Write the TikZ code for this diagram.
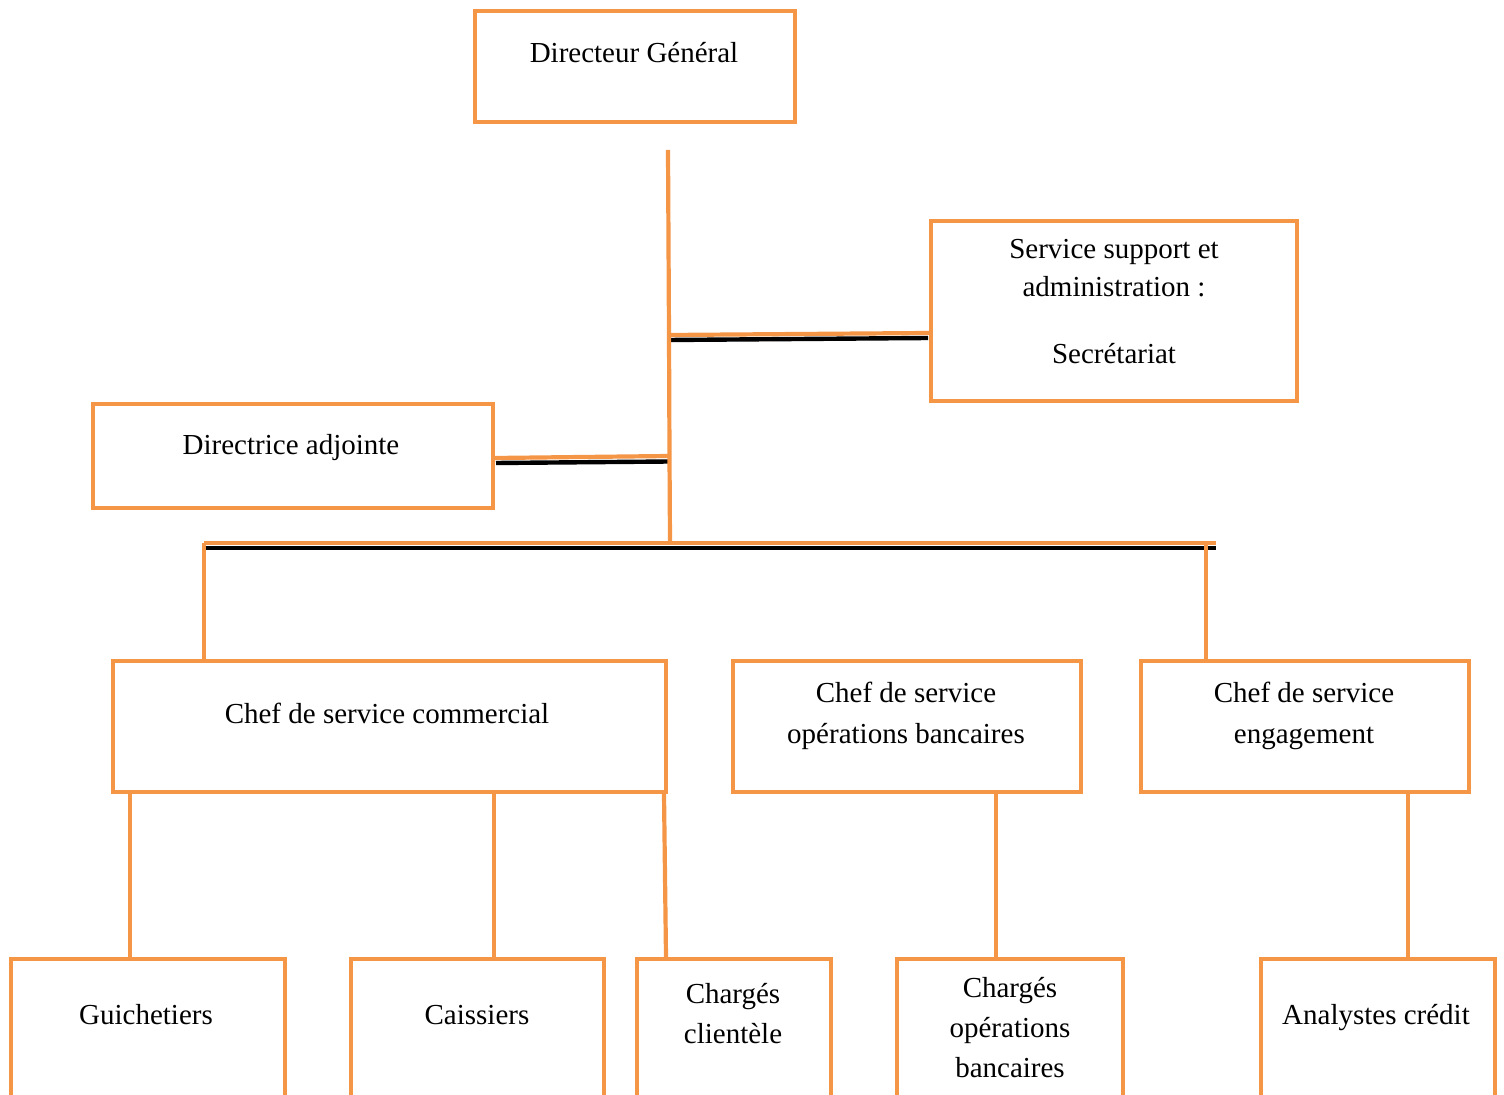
\documentclass[tikz,border=0pt]{standalone}
\usepackage{fontspec}
\setmainfont{Liberation Serif}
\definecolor{boxorange}{RGB}{245,150,70}
\begin{document}
\begin{tikzpicture}[x=0.5pt,y=-0.5pt,
  box/.style={draw=boxorange, line width=2.1pt, rectangle, inner sep=0pt, fill=white},
  txt/.style={anchor=base, inner sep=0pt, font=\fontsize{14.5pt}{20pt}\selectfont},
  link/.style={draw=boxorange, line width=2.1pt},
  shade/.style={draw=black, line width=2.2pt}]
\useasboundingbox (0,0) rectangle (1504,1095);
\begin{scope}
\clip (0,0) rectangle (1504,1095);

% boxes
\node[box, minimum width=160pt, minimum height=55.5pt] (dg) at (635,66.5) {};
\node[box, minimum width=183pt, minimum height=90pt] (sup) at (1114,311) {};
\node[box, minimum width=200pt, minimum height=52pt] (adj) at (293,456) {};
\node[box, minimum width=276.5pt, minimum height=65.5pt] (com) at (389.5,726.5) {};
\node[box, minimum width=174pt, minimum height=65.5pt] (ops) at (907,726.5) {};
\node[box, minimum width=164pt, minimum height=65.5pt] (eng) at (1305,726.5) {};
\node[box, minimum width=137pt, minimum height=80.5pt] (gui) at (148,1039.5) {};
\node[box, minimum width=126.5pt, minimum height=80.5pt] (cai) at (477.5,1039.5) {};
\node[box, minimum width=97pt, minimum height=80.5pt] (cli) at (734,1039.5) {};
\node[box, minimum width=113pt, minimum height=80.5pt] (cop) at (1010,1039.5) {};
\node[box, minimum width=117pt, minimum height=80.5pt] (ana) at (1378,1039.5) {};

% texts
\node[txt] (dgt) at (634,63) {Directeur Général};
\node[txt] (sup1) at (1114,259) {Service support et};
\node[txt] (sup2) at (1114,297) {administration :};
\node[txt] (sup3) at (1114,364) {Secrétariat};
\node[txt] (adjt) at (291,455) {Directrice adjointe};
\node[txt] (comt) at (387,724) {Chef de service commercial};
\node[txt] (ops1) at (906,703) {Chef de service};
\node[txt] (ops2) at (906,743) {opérations bancaires};
\node[txt] (eng1) at (1304,703) {Chef de service};
\node[txt] (eng2) at (1304,743) {engagement};
\node[txt] (guit) at (146,1024) {Guichetiers};
\node[txt] (cait) at (477,1024) {Caissiers};
\node[txt] (cli1) at (733,1003) {Chargés};
\node[txt] (cli2) at (733,1043) {clientèle};
\node[txt] (cop1) at (1010,997) {Chargés};
\node[txt] (cop2) at (1010,1037) {opérations};
\node[txt] (cop3) at (1010,1077) {bancaires};
\node[txt] (anat) at (1376,1024) {Analystes crédit};

% trunk and junction points
\coordinate (top) at (668,150);
\coordinate (jsup) at (669,335);
\coordinate (jadj) at (669.5,456);
\coordinate (jbus) at (670,543);
\coordinate (busl) at (204,543);
\coordinate (busr) at (1216,543);
\coordinate (dropl) at (204,661);
\coordinate (dropr) at (1206,661);
% ends of the black shadow lines
\coordinate (ssupa) at (669,340);
\coordinate (ssupb) at (928,338);
\coordinate (sadja) at (669.5,461.5);
\coordinate (sadjb) at (496,463);
\coordinate (sbusa) at (204,548);
\coordinate (sbusb) at (1216,548);

% black shadow lines under the horizontal links
\draw[shade] (ssupa) -- (ssupb);
\draw[shade] (sadja) -- (sadjb);
\draw[shade] (sbusa) -- (sbusb);

% orange links
\draw[link] (top) -- (jsup) -- (jadj) -- (jbus);
\draw[link] (jsup) -- (sup.west |- 0,333);
\draw[link] (jadj) -- (adj.east |- 0,458);
\draw[link] (busl) -- (busr);
\draw[link] (busl) -- (dropl);
\draw[link] (1206,543) -- (dropr);

\draw[link] (com.south -| 130,0) -- (gui.north -| 130,0);
\draw[link] (com.south -| 494,0) -- (cai.north -| 494,0);
\draw[link] (com.south -| 664,0) -- (cli.north -| 666,0);
\draw[link] (ops.south -| 996,0) -- (cop.north -| 996,0);
\draw[link] (eng.south -| 1408,0) -- (ana.north -| 1408,0);
\end{scope}
\end{tikzpicture}
\end{document}
